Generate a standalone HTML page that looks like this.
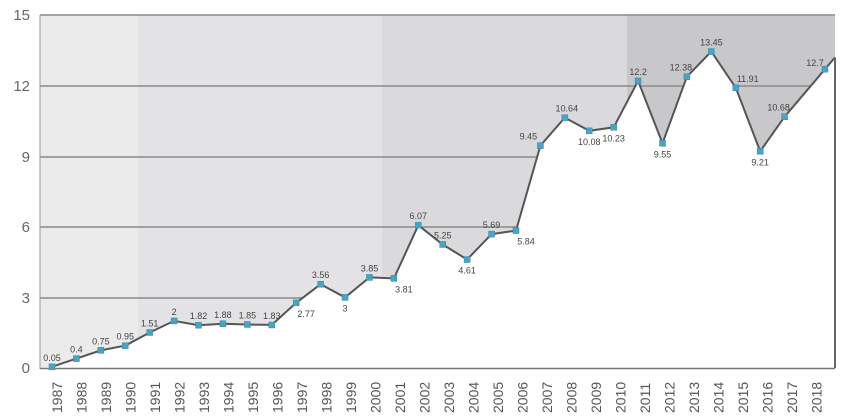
<!DOCTYPE html><html><head><style>body{margin:0;background:#fff}svg{display:block;font-family:"Liberation Sans",sans-serif}</style></head><body>
<div id="c"></div>
<script>
var v=[0.05,0.4,0.75,0.95,1.51,2,1.82,1.88,1.85,1.83,2.77,3.56,3,3.85,3.81,6.07,5.25,4.61,5.69,5.84,9.45,10.64,10.08,10.23,12.2,9.55,12.38,13.45,11.91,9.21,10.68,12.7];
var below={10:1,12:1,14:1,17:1,19:1,22:1,23:1,25:1,29:1};
var adx={26:-6,28:12,30:-6,20:-12,21:2};
function X(i){return i==31?825:52+i*24.42}
function Y(x){return 368-x*23.53}
var p=[];
for(var i=0;i<v.length;i++){p.push(X(i).toFixed(1)+","+Y(v[i]).toFixed(1));}
p.push("835,"+Y(13.2).toFixed(1));
var s='<svg width="850" height="419" xmlns="http://www.w3.org/2000/svg">';
s+='<rect x="40" y="15" width="98" height="353" fill="#ebebeb"/><rect x="138" y="15" width="244" height="353" fill="#e3e3e5"/><rect x="382" y="15" width="245" height="353" fill="#dadadc"/><rect x="627" y="15" width="208" height="353" fill="#c8c8ca"/>';
var gy=[15,86,157,227,298];
for(i=0;i<5;i++)s+='<line x1="40" y1="'+gy[i]+'" x2="835" y2="'+gy[i]+'" stroke="#8a8a8a" stroke-width="1.5"/>';
s+='<polygon fill="#fff" points="40,368 '+p.join(" ")+' 835,368"/>';
s+='<polyline fill="none" stroke="#555" stroke-width="2" points="'+p.join(" ")+'"/>';
s+='<line x1="835" y1="'+Y(13.2)+'" x2="835" y2="368" stroke="#666" stroke-width="2"/>';
s+='<line x1="40" y1="368.5" x2="835" y2="368.5" stroke="#777" stroke-width="1.5"/><line x1="40" y1="15" x2="40" y2="369" stroke="#999" stroke-width="1"/>';
for(i=0;i<v.length;i++){s+='<rect x="'+(X(i)-3)+'" y="'+(Y(v[i])-3)+'" width="6" height="6" fill="#4aa3c4" stroke="#3a8aa8" stroke-width="0.5"/>';}
var yl=[15,12,9,6,3,0];
for(i=0;i<6;i++)s+='<text x="30" y="'+(gy.concat([368])[i]+5)+'" font-size="15" fill="#666" text-anchor="end">'+yl[i]+'</text>';
for(i=0;i<32;i++){
var x=52+i*24.5+10;
s+='<text transform="translate('+x+',413) rotate(-90)" font-size="14" fill="#555">'+(1987+i)+'</text>';
var lx=X(i)+(adx[i]||0),ly=Y(v[i]),t=String(v[i]);
if(i==31){s+='<text x="'+(lx-10)+'" y="'+(ly-3)+'" font-size="9" fill="#444" text-anchor="middle">'+t+'</text>';}
else if(below[i]){var dx=(i==10||i==14||i==19)?10:0;s+='<text x="'+(lx+dx)+'" y="'+(ly+14)+'" font-size="9" fill="#444" text-anchor="middle">'+t+'</text>';}
else s+='<text x="'+lx+'" y="'+(ly-6)+'" font-size="9" fill="#444" text-anchor="middle">'+t+'</text>';
}
s+='</svg>';
document.getElementById('c').innerHTML=s;
</script>
</body></html>
